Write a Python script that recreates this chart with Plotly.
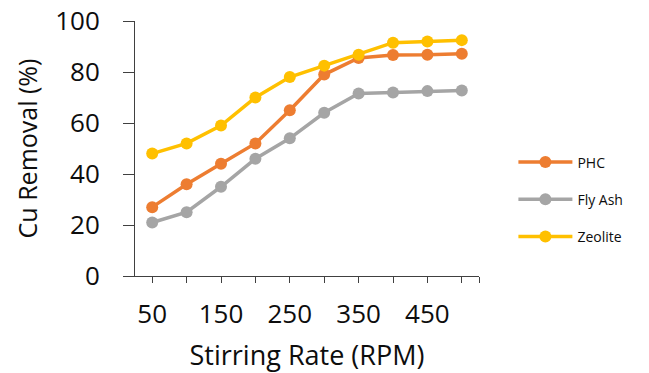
import plotly.graph_objects as go

rpm = [50, 100, 150, 200, 250, 300, 350, 400, 450, 500]
phc = [27, 36, 44, 52, 65, 79, 85.5, 86.7, 86.8, 87.2]
fly_ash = [21, 25, 35, 46, 54, 64, 71.6, 72, 72.5, 72.7]
zeolite = [48, 52, 59, 70, 78, 82.5, 86.8, 91.5, 92, 92.5]

tick_vals = rpm + [525]
tick_text = ["50", "", "150", "", "250", "", "350", "", "450", "", ""]

series = [("PHC", phc, "#ED7D31"), ("Fly Ash", fly_ash, "#A5A5A5"), ("Zeolite", zeolite, "#FFC000")]

fig = go.Figure()
for i, (name, vals, col) in enumerate(series):
    fig.add_trace(go.Scatter(
        x=rpm, y=vals, name=name, mode="lines+markers",
        line=dict(color=col, width=3.5),
        marker=dict(color=col, size=12),
        legendgroup=f"g{i}",
    ))

font_family = "Open Sans"
fig.update_layout(
    width=649, height=373,
    margin=dict(l=135, r=170, t=21, b=97, autoexpand=False),
    plot_bgcolor="white", paper_bgcolor="white",
    font=dict(family=font_family, color="#0d0d0d"),
    showlegend=True,
    legend=dict(x=1.10, y=0.30, xanchor="left", yanchor="middle",
                font=dict(size=14, family=font_family, color="#0d0d0d"),
                tracegroupgap=16, itemwidth=54),
    xaxis=dict(range=[25, 525], tickmode="array", tickvals=tick_vals, ticktext=tick_text,
               ticks="outside", ticklen=6, tickcolor="#404040", showline=True,
               linecolor="#404040", linewidth=1, showgrid=False, zeroline=False,
               automargin=False,
               tickfont=dict(size=26), ticklabelstandoff=9,
               title=dict(text="Stirring Rate (RPM)", font=dict(size=27), standoff=20)),
    yaxis=dict(range=[0, 100], tickvals=[0, 20, 40, 60, 80, 100],
               ticks="outside", ticklen=11, tickcolor="#404040", showline=True,
               linecolor="#404040", linewidth=1, showgrid=False, zeroline=False,
               automargin=False,
               tickfont=dict(size=26), ticklabelstandoff=18,
               title=dict(text="Cu Removal (%)", font=dict(size=25), standoff=10)),
)

fig.write_html("out.html")
